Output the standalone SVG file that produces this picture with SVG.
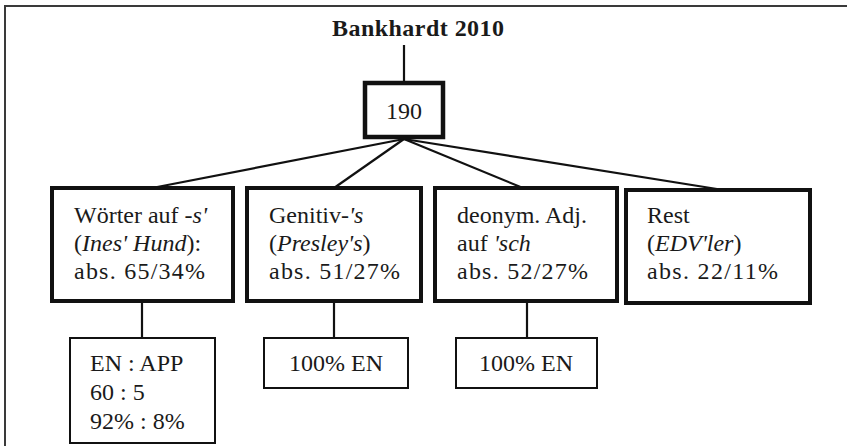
<svg xmlns="http://www.w3.org/2000/svg" width="847" height="446" viewBox="0 0 847 446">
<style>
  text { font-family: "Liberation Serif", "Times New Roman", serif; fill: #1a1a1a; font-size: 24px; }
  .title { font-weight: bold; }
  .it { font-style: italic; }
  .b2 { fill: #fff; stroke: #111; stroke-width: 4; }
  .b3 { fill: #fff; stroke: #111; stroke-width: 2; }
  .b1 { fill: #fff; stroke: #111; stroke-width: 4.5; }
  .conn line { stroke: #111; stroke-width: 2.2; }
  .frame { stroke: #3a3a3a; stroke-width: 2; fill: none; }
</style>
<rect width="847" height="446" fill="#fff"/>
<path class="frame" d="M5,446 V6 H847"/>

<g id="title">
  <text class="title" x="418" y="36" text-anchor="middle" font-size="25" textLength="172">Bankhardt 2010</text>
</g>

<g class="conn" id="connectors">
  <line x1="404" y1="45" x2="404" y2="83"/>
  <line x1="404" y1="139" x2="152" y2="188"/>
  <line x1="404" y1="139" x2="334" y2="188"/>
  <line x1="404" y1="139" x2="523" y2="188"/>
  <line x1="404" y1="139" x2="717" y2="189"/>
  <line x1="142" y1="302" x2="142" y2="338"/>
  <line x1="334" y1="302" x2="334" y2="338"/>
  <line x1="527" y1="302" x2="527" y2="338"/>
</g>

<g id="root">
  <rect class="b1" x="365" y="83" width="78" height="54"/>
  <text x="404" y="119" text-anchor="middle">190</text>
</g>

<g id="n1">
  <rect class="b2" x="52" y="188" width="181" height="113"/>
  <text x="74" y="223">Wörter auf <tspan class="it">-s'</tspan></text>
  <text x="74" y="251">(<tspan class="it">Ines' Hund</tspan>):</text>
  <text x="74" y="279" textLength="131">abs. 65/34%</text>
</g>

<g id="n2">
  <rect class="b2" x="247" y="188" width="174" height="113"/>
  <text x="269" y="223">Genitiv-<tspan class="it">'s</tspan></text>
  <text x="269" y="251">(<tspan class="it">Presley's</tspan>)</text>
  <text x="269" y="279" textLength="131">abs. 51/27%</text>
</g>

<g id="n3">
  <rect class="b2" x="435" y="188" width="182" height="113"/>
  <text x="457" y="223">deonym. Adj.</text>
  <text x="457" y="251">auf <tspan class="it">'sch</tspan></text>
  <text x="457" y="279" textLength="131">abs. 52/27%</text>
</g>

<g id="n4">
  <rect class="b2" x="626" y="190" width="184" height="113"/>
  <text x="647" y="223">Rest</text>
  <text x="647" y="251">(<tspan class="it">EDV'ler</tspan>)</text>
  <text x="647" y="279" textLength="131">abs. 22/11%</text>
</g>

<g id="n1a">
  <rect class="b3" x="70" y="338" width="145" height="105"/>
  <text x="90" y="371" font-size="25">EN : APP</text>
  <text x="90" y="400" font-size="25">60 : 5</text>
  <text x="90" y="429" font-size="25">92% : 8%</text>
</g>

<g id="n2a">
  <rect class="b3" x="264" y="338" width="144" height="50"/>
  <text x="336" y="371" text-anchor="middle" font-size="25">100% EN</text>
</g>

<g id="n3a">
  <rect class="b3" x="456" y="338" width="141" height="50"/>
  <text x="526" y="371" text-anchor="middle" font-size="25">100% EN</text>
</g>
</svg>
